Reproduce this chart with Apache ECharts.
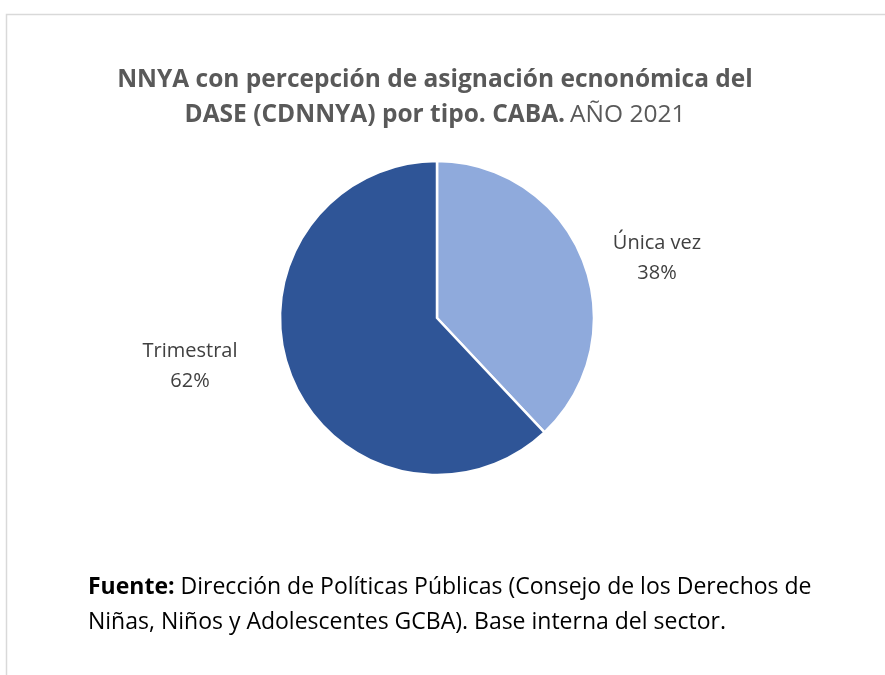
<!DOCTYPE html>
<html>
<head>
<meta charset="utf-8">
<script src="https://cdn.jsdelivr.net/npm/echarts@6/dist/echarts.min.js"></script>
<style>
  html, body { margin: 0; padding: 0; background: #fff; }
  #main { width: 885px; height: 675px; }
</style>
</head>
<body>
<div id="main"></div>
<script>
var categories = ['Única vez', 'Trimestral'];
var values = [38, 62];
var colors = ['#8faadc', '#2f5597'];

var chart = echarts.init(document.getElementById('main'));

var option = {
  animation: false,
  graphic: [
    {
      type: 'rect',
      shape: { x: 6.5, y: 14.5, width: 900, height: 700 },
      style: { fill: 'none', stroke: '#d9d9d9', lineWidth: 1.5 }
    },
    {
      type: 'text',
      left: 88,
      top: 570,
      style: {
        text: '{b|Fuente:} Dirección de Políticas Públicas (Consejo de los Derechos de\nNiñas, Niños y Adolescentes GCBA). Base interna del sector.',
        rich: {
          b: { fontWeight: 'bold', fontSize: 23, fontFamily: 'Open Sans', fill: '#000' }
        },
        fontSize: 23,
        fontFamily: 'Open Sans',
        fill: '#000',
        lineHeight: 35
      }
    }
  ],
  title: {
    text: '{b|NNYA con percepción de asignación ecnonómica del}\n{b|DASE (CDNNYA) por tipo. CABA.} {n|AÑO 2021}',
    left: 430,
    top: 58,
    textAlign: 'center',
    textStyle: {
      rich: {
        b: { fontWeight: 'bold', fontSize: 24.5, fontFamily: 'Open Sans', color: '#595959', lineHeight: 35 },
        n: { fontWeight: 'normal', fontSize: 24.5, fontFamily: 'Open Sans', color: '#595959', lineHeight: 35 }
      }
    }
  },
  series: [{
    type: 'pie',
    center: [437, 318],
    radius: 157,
    startAngle: 90,
    clockwise: true,
    itemStyle: { borderColor: '#fff', borderWidth: 2.5 },
    label: {
      show: true,
      position: 'outside',
      formatter: '{b}\n{d}%',
      fontFamily: 'Open Sans',
      fontSize: 20,
      color: '#404040',
      lineHeight: 30,
      align: 'center'
    },
    labelLine: { show: false, length: 30, length2: 0 },
    labelLayout: function (params) {
      if (params.dataIndex === 0) {
        return { x: 657, y: 258, align: 'center', verticalAlign: 'middle' };
      }
      return { x: 190, y: 366, align: 'center', verticalAlign: 'middle' };
    },
    data: categories.map(function (c, i) {
      return { name: c, value: values[i], itemStyle: { color: colors[i] } };
    })
  }]
};

chart.setOption(option);
</script>
</body>
</html>
